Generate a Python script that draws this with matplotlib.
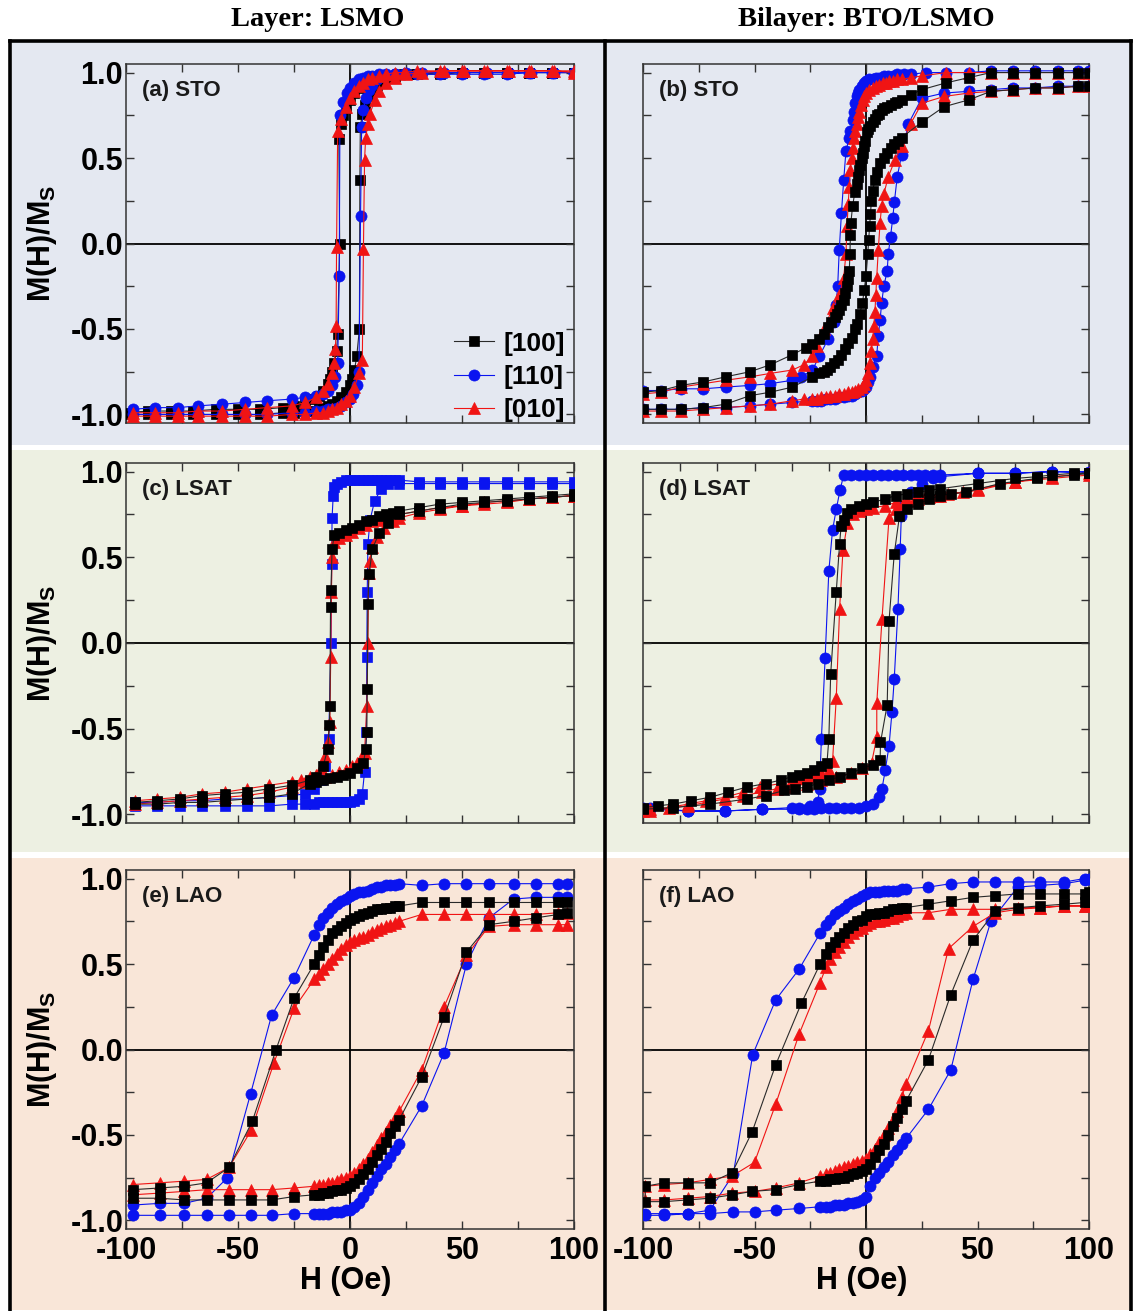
import numpy as np
import matplotlib
matplotlib.use('Agg')
import matplotlib.pyplot as plt
from matplotlib.patches import Rectangle
from matplotlib.lines import Line2D
from matplotlib.ticker import MultipleLocator, FormatStrFormatter

plt.rcParams['font.family'] = ['Liberation Sans', 'DejaVu Sans']
plt.rcParams['axes.unicode_minus'] = False
plt.rcParams['mathtext.fontset'] = 'custom'
plt.rcParams['mathtext.bf'] = 'Liberation Sans:bold'
plt.rcParams['mathtext.rm'] = 'Liberation Sans'

# ---------------- data: each loop = descending branch then ascending branch, (H [Oe], M/Ms)
# (a) LSMO on STO
A_100 = np.array([
    (100,1.00),(90,1.00),(80,1.00),(70,1.00),(60,1.00),(50,1.00),(40,0.99),(30,0.99),(24,0.99),(20,0.98),
    (16,0.98),(13,0.97),(10,0.96),(8,0.95),(6,0.93),(4,0.91),(2,0.88),(0,0.84),(-2,0.79),(-3,0.75),(-4,0.70),
    (-5,0.61),(-4.6,0.00),(-5.5,-0.53),(-6,-0.63),(-7,-0.70),(-8,-0.75),(-9,-0.79),(-10,-0.82),(-12,-0.86),
    (-14,-0.89),(-17,-0.91),(-20,-0.93),(-25,-0.95),(-30,-0.96),(-40,-0.97),(-50,-0.97),(-60,-0.97),(-70,-0.98),
    (-80,-0.98),(-90,-0.98),(-100,-0.99),
    (-100,-1.00),(-90,-1.00),(-80,-1.00),(-70,-1.00),(-60,-1.00),(-50,-1.00),(-40,-1.00),(-30,-0.99),(-25,-0.99),
    (-20,-0.98),(-17,-0.98),(-14,-0.97),(-12,-0.96),(-10,-0.95),(-8,-0.94),(-6,-0.92),(-4,-0.90),(-2,-0.87),
    (0,-0.83),(1,-0.79),(2,-0.74),(3,-0.66),(4.2,-0.50),(4.4,0.37),(4.6,0.68),(5.5,0.76),(6.5,0.81),(8,0.86),
    (10,0.90),(12,0.93),(14,0.95),(17,0.97),(20,0.98),(25,0.99),(30,0.99),(40,1.00),(50,1.00),(60,1.00),
    (70,1.00),(80,1.00),(90,1.00),(100,1.00)])
A_110 = np.array([
    (100,1.00),(90,1.00),(80,1.00),(70,0.99),(60,0.99),(50,0.99),(40,0.99),(30,0.99),(24,0.99),(20,0.99),
    (16,0.99),(13,0.99),(10,0.98),(8,0.98),(6,0.97),(4,0.96),(2,0.94),(0,0.91),(-1.5,0.88),(-3,0.83),
    (-4.5,0.75),(-4.8,-0.19),(-5.5,-0.70),(-6.5,-0.78),(-8,-0.83),(-10,-0.86),(-12,-0.88),(-15,-0.89),
    (-20,-0.90),(-26,-0.91),(-37,-0.92),(-47,-0.93),(-57,-0.94),(-68,-0.95),(-77,-0.96),(-87,-0.96),(-97,-0.97),
    (-97,-1.00),(-87,-1.00),(-77,-1.00),(-68,-1.00),(-57,-1.00),(-47,-1.00),(-37,-1.00),(-26,-0.99),(-20,-0.99),
    (-15,-0.98),(-12,-0.98),(-10,-0.97),(-8,-0.97),(-6,-0.96),(-4,-0.95),(-2,-0.93),(0,-0.91),(1.5,-0.88),
    (3,-0.83),(4,-0.75),(4.7,0.16),(5.2,0.68),(6,0.78),(7,0.85),(8.5,0.90),(10,0.93),(12,0.96),(15,0.98),
    (20,0.99),(25,1.00),(32,1.00),(42,1.00),(51,1.00),(61,1.00),(71,1.00),(81,1.00),(91,1.00),(100,1.00)])
A_010 = np.array([
    (100,1.01),(90,1.01),(80,1.01),(70,1.01),(60,1.01),(50,1.01),(40,1.01),(30,1.01),(24,1.00),(20,1.00),
    (16,0.99),(13,0.98),(10,0.97),(8,0.96),(6,0.94),(4,0.92),(2,0.89),(0,0.85),(-2,0.80),(-4,0.73),(-5.5,0.66),
    (-6,-0.02),(-6.2,-0.48),(-6.5,-0.62),(-7,-0.70),(-8,-0.76),(-10,-0.82),(-12,-0.86),(-15,-0.90),(-20,-0.93),
    (-26,-0.95),(-37,-0.96),(-47,-0.97),(-57,-0.98),(-68,-0.98),(-77,-0.99),(-87,-0.99),(-97,-0.99),
    (-97,-1.01),(-87,-1.01),(-77,-1.01),(-68,-1.01),(-57,-1.01),(-47,-1.01),(-37,-1.01),(-26,-1.00),(-20,-1.00),
    (-15,-0.99),(-12,-0.99),(-10,-0.98),(-8,-0.97),(-6,-0.96),(-4,-0.94),(-2,-0.92),(0,-0.89),(2,-0.84),
    (4,-0.76),(5.5,-0.68),(6,-0.03),(6.5,0.49),(7,0.62),(8,0.70),(9,0.76),(11,0.84),(13,0.89),(16,0.94),
    (20,0.97),(25,0.99),(32,1.00),(42,1.01),(51,1.01),(61,1.01),(71,1.01),(81,1.01),(91,1.01),(100,1.00)])

# (b) BTO/LSMO on STO
B_100 = np.array([
    (100,1.00),(95,1.00),(86,1.00),(76,1.00),(66,1.00),(56,1.00),(46,0.97),(36,0.94),(25,0.90),(20,0.87),
    (16,0.84),(14,0.83),(13,0.82),(11,0.81),(9.5,0.80),(8,0.79),(7,0.78),(6,0.76),(5,0.75),(4,0.73),(3,0.71),
    (2,0.69),(1,0.67),(0.5,0.65),(-0.5,0.60),(-1,0.57),(-1.5,0.53),(-2,0.50),(-2.5,0.46),(-3,0.43),(-3.5,0.39),
    (-4.2,0.35),(-5,0.30),(-6,0.22),(-6.8,0.12),(-7,0.05),(-7.2,-0.06),(-7.5,-0.16),(-8,-0.21),(-8.5,-0.25),
    (-9.2,-0.29),(-10,-0.33),(-11,-0.36),(-12,-0.39),(-13,-0.41),(-14,-0.43),(-15.5,-0.46),(-17,-0.49),
    (-19,-0.53),(-21,-0.56),(-24,-0.59),(-27,-0.61),(-33,-0.65),(-43,-0.71),
    (-52,-0.75),(-63,-0.78),(-73,-0.81),(-83,-0.83),(-92,-0.86),(-100,-0.87),
    (-100,-0.97),(-92,-0.97),(-83,-0.97),(-73,-0.96),(-63,-0.94),(-52,-0.89),(-43,-0.87),(-33,-0.84),
    (-24,-0.78),(-21,-0.76),(-19,-0.75),(-17.5,-0.74),(-16,-0.72),(-14.5,-0.70),(-12.7,-0.68),(-11,-0.65),
    (-9.5,-0.62),(-8,-0.58),(-6.5,-0.55),(-5,-0.50),(-4,-0.47),(-2.8,-0.41),(-1.6,-0.35),(-0.8,-0.27),
    (0,-0.19),(0.8,-0.06),(1.2,0.02),(1.6,0.10),(2,0.17),(2.4,0.25),(3,0.31),(4,0.37),(5,0.42),(6.3,0.47),
    (8,0.50),(9.5,0.53),(11,0.56),(12.7,0.58),(14.5,0.60),(16,0.62),(25,0.71),(35,0.80),(46,0.84),
    (56,0.89),(66,0.90),(76,0.91),(86,0.91),(95,0.92),(100,0.92)])
B_110 = np.array([
    (100,1.01),(95,1.01),(86,1.01),(76,1.01),(66,1.01),(56,1.01),(46,1.00),(36,1.00),(27,1.00),(20,0.99),
    (17,0.99),(14,0.99),(12,0.98),(10,0.98),(8,0.98),(6,0.97),(4.5,0.97),(3,0.96),(1.5,0.96),(0,0.95),
    (-1,0.94),(-2,0.92),(-3,0.90),(-3.5,0.88),(-4.2,0.86),(-5,0.82),(-5.5,0.77),(-6,0.72),(-7,0.66),
    (-7.5,0.62),(-9,0.54),(-10,0.37),(-11,0.18),(-12,-0.04),(-12.7,-0.25),(-13.5,-0.36),(-14.5,-0.46),
    (-17,-0.56),(-21,-0.66),(-24,-0.74),(-29,-0.78),(-33,-0.80),(-43,-0.82),(-52,-0.83),(-63,-0.84),
    (-73,-0.85),(-83,-0.85),(-92,-0.86),(-100,-0.86),
    (-100,-0.97),(-92,-0.97),(-83,-0.97),(-73,-0.96),(-63,-0.96),(-52,-0.95),(-43,-0.94),(-33,-0.93),
    (-24,-0.92),(-22,-0.92),(-20,-0.92),(-18,-0.91),(-16,-0.91),(-14,-0.91),(-12,-0.90),(-10,-0.90),
    (-8,-0.89),(-6.5,-0.89),(-5,-0.88),(-3.5,-0.87),(-2,-0.86),(-1,-0.85),(0,-0.84),(0.8,-0.81),(1.6,-0.78),
    (3,-0.72),(4.8,-0.66),(5.5,-0.54),(6.3,-0.45),(7,-0.35),(8,-0.25),(9.5,-0.16),(10,-0.06),(11,0.04),
    (12,0.15),(12.7,0.24),(14,0.39),(16,0.52),(19,0.70),(25,0.85),(35,0.88),(46,0.89),(56,0.90),(66,0.91),
    (76,0.91),(86,0.92),(95,0.92),(100,0.92)])
B_010 = np.array([
    (100,1.00),(95,1.00),(86,1.00),(76,1.00),(66,1.00),(56,1.00),(46,1.00),(36,1.00),(25,0.98),(20,0.97),
    (16,0.96),(14,0.96),(12,0.95),(10.5,0.95),(9,0.94),(7.5,0.94),(6,0.93),(4.5,0.92),(3,0.91),(1.5,0.90),
    (0,0.88),(-0.8,0.86),(-1.5,0.84),(-2.2,0.81),(-3,0.77),(-3.5,0.74),(-4,0.70),(-4.8,0.66),(-5.5,0.62),
    (-6,0.56),(-6.5,0.50),(-7,0.43),(-7.5,0.33),(-8,0.23),(-8.5,0.10),(-9,-0.06),(-10,-0.20),(-12,-0.30),
    (-15,-0.38),(-19,-0.50),(-22,-0.60),(-24,-0.66),(-28,-0.71),(-33,-0.74),(-43,-0.76),(-52,-0.78),
    (-63,-0.80),(-73,-0.82),(-83,-0.84),(-92,-0.87),(-100,-0.88),
    (-100,-0.98),(-92,-0.98),(-83,-0.98),(-73,-0.97),(-63,-0.96),(-52,-0.95),(-43,-0.94),(-33,-0.92),
    (-28,-0.91),(-24,-0.91),(-22,-0.91),(-20,-0.90),(-18,-0.90),(-16,-0.89),(-14,-0.89),(-12,-0.88),
    (-10,-0.88),(-8,-0.87),(-6.5,-0.87),(-5,-0.86),(-3.5,-0.85),(-2,-0.84),(-1,-0.82),(0,-0.80),(0.8,-0.76),
    (1.6,-0.70),(2.3,-0.63),(3,-0.56),(3.5,-0.48),(4,-0.40),(4.4,-0.30),(4.8,-0.20),(5.5,-0.04),(6.3,0.12),
    (7,0.22),(8,0.29),(10,0.39),(13,0.49),(16,0.57),(20,0.70),(25,0.82),(35,0.86),(46,0.88),(56,0.89),
    (66,0.90),(76,0.91),(86,0.91),(95,0.92),(100,0.92)])

# (c) LSMO on LSAT
C_100 = np.array([
    (100,0.87),(90,0.86),(80,0.85),(70,0.84),(60,0.83),(50,0.82),(40,0.81),(31,0.79),(22,0.77),(19,0.76),
    (16,0.75),(13,0.74),(10,0.72),(7,0.71),(4,0.69),(1,0.67),(-2,0.66),(-5,0.64),(-7,0.63),(-8,0.55),
    (-8.5,0.31),(-8.7,0.21),(-9,-0.37),(-9.2,-0.48),(-10,-0.62),(-12,-0.72),(-15,-0.78),(-18,-0.80),
    (-26,-0.83),(-36,-0.85),(-46,-0.87),(-56,-0.88),(-66,-0.89),(-76,-0.91),(-86,-0.92),(-96,-0.93),
    (-96,-0.94),(-86,-0.94),(-76,-0.93),(-66,-0.93),(-56,-0.92),(-46,-0.91),(-36,-0.90),(-26,-0.88),
    (-18,-0.82),(-15,-0.81),(-12,-0.80),(-9,-0.79),(-6,-0.78),(-3,-0.77),(0,-0.76),(3,-0.73),(6,-0.70),
    (7,-0.62),(7.5,-0.52),(7.7,-0.27),(8,0.23),(8.5,0.40),(10,0.55),(13,0.64),(17,0.70),(22,0.75),(31,0.77),
    (40,0.79),(50,0.81),(60,0.82),(70,0.83),(80,0.84),(90,0.85),(100,0.86)])
C_110 = np.array([
    (100,0.94),(90,0.94),(80,0.94),(70,0.94),(60,0.94),(50,0.94),(40,0.94),(31,0.94),(22,0.95),(20,0.95),
    (18,0.95),(16,0.95),(14,0.95),(12,0.95),(10,0.95),(8,0.95),(6,0.95),(4,0.95),(2,0.95),(0,0.95),(-2,0.95),
    (-4,0.94),(-6,0.93),(-7,0.91),(-7.5,0.86),(-8,0.73),(-8.2,0.46),(-8.5,0.00),(-9.5,-0.56),(-11,-0.72),
    (-13,-0.80),(-16,-0.85),(-20,-0.88),(-26,-0.89),(-36,-0.90),(-46,-0.91),(-56,-0.91),(-66,-0.92),
    (-76,-0.92),(-86,-0.93),(-96,-0.93),
    (-96,-0.95),(-86,-0.95),(-76,-0.95),(-66,-0.95),(-56,-0.95),(-46,-0.95),(-36,-0.95),(-26,-0.94),
    (-20,-0.94),(-16,-0.94),(-14,-0.93),(-12,-0.93),(-10,-0.93),(-8,-0.93),(-6,-0.93),(-4,-0.93),(-2,-0.93),
    (0,-0.93),(2,-0.92),(4,-0.91),(5.5,-0.88),(6.5,-0.75),(7.3,-0.52),(7.5,-0.08),(7.7,0.30),(8,0.58),
    (9,0.72),(11,0.83),(14,0.90),(17,0.93),(22,0.93),(31,0.93),(40,0.93),(50,0.93),(60,0.93),(70,0.93),
    (80,0.93),(90,0.93),(100,0.93)])
C_010 = np.array([
    (100,0.86),(90,0.85),(80,0.84),(70,0.83),(60,0.82),(50,0.80),(40,0.79),(31,0.77),(22,0.75),(19,0.74),
    (16,0.73),(13,0.72),(10,0.71),(7,0.69),(4,0.67),(1,0.65),(-2,0.63),(-5,0.61),(-7,0.59),(-8,0.50),
    (-8.3,0.30),(-8.6,-0.08),(-9,-0.46),(-10,-0.58),(-11,-0.66),(-13,-0.73),(-15,-0.77),(-18,-0.78),
    (-22,-0.80),(-26,-0.81),(-36,-0.83),(-46,-0.85),(-56,-0.87),(-66,-0.88),(-76,-0.90),(-86,-0.91),
    (-96,-0.92),
    (-96,-0.94),(-86,-0.93),(-76,-0.92),(-66,-0.91),(-56,-0.90),(-46,-0.89),(-36,-0.87),(-26,-0.84),
    (-20,-0.81),(-17,-0.80),(-14,-0.79),(-11,-0.78),(-8,-0.77),(-5,-0.75),(-2,-0.74),(1,-0.72),(3,-0.70),
    (5,-0.67),(6.5,-0.64),(7.5,-0.37),(8,0.00),(8.3,0.41),(8.8,0.48),(10,0.56),(12,0.62),(15,0.67),
    (19,0.71),(22,0.73),(31,0.76),(40,0.78),(50,0.80),(60,0.81),(70,0.82),(80,0.84),(90,0.85),(100,0.86)])

# (d) BTO/LSMO on LSAT
D_100 = np.array([
    (60,0.99),(56,0.99),(50,0.98),(46,0.97),(40,0.96),(30,0.93),(20,0.90),(17,0.89),(14,0.88),(11,0.87),
    (8,0.86),(5,0.84),(2,0.82),(0,0.81),(-2,0.80),(-4,0.78),(-5,0.76),(-6,0.72),(-6.7,0.68),(-7.1,0.58),
    (-8,0.30),(-9.5,-0.18),(-10,-0.56),(-10.5,-0.70),(-12,-0.72),(-14,-0.74),(-16,-0.76),(-18,-0.77),
    (-20,-0.78),(-23,-0.80),(-27,-0.82),(-32,-0.84),(-37,-0.87),(-42,-0.90),(-47,-0.92),(-52,-0.94),
    (-56,-0.95),(-60,-0.96),
    (-60,-0.97),(-52,-0.96),(-42,-0.94),(-32,-0.91),(-27,-0.89),(-22,-0.86),(-19,-0.85),(-16,-0.84),
    (-13,-0.82),(-10,-0.80),(-7,-0.78),(-4,-0.76),(-1,-0.73),(2,-0.71),(3.8,-0.68),(3.9,-0.58),(5.7,-0.36),
    (6.2,0.13),(7.6,0.52),(9,0.74),(11,0.78),(14,0.81),(17,0.84),(20,0.86),(23,0.87),(27,0.88),(36,0.93),
    (46,0.96),(56,0.98),(60,0.99)])
D_110 = np.array([
    (60,0.99),(50,1.00),(40,0.99),(30,0.99),(20,0.98),(18,0.98),(16,0.98),(14,0.98),(12,0.98),(10,0.98),
    (8,0.98),(6,0.98),(4,0.98),(2,0.98),(0,0.98),(-2,0.98),(-4,0.98),(-6,0.98),(-7,0.89),(-8,0.78),(-9,0.66),
    (-10,0.42),(-11,-0.09),(-12,-0.56),(-12.5,-0.85),(-13,-0.93),(-15,-0.95),(-18,-0.96),(-20,-0.96),
    (-28,-0.97),(-38,-0.98),(-48,-0.98),(-58,-0.96),(-60,-0.96),
    (-60,-0.97),(-58,-0.97),(-48,-0.98),(-38,-0.98),(-28,-0.97),(-18,-0.97),(-16,-0.97),(-14,-0.97),
    (-12,-0.96),(-10,-0.96),(-8,-0.96),(-6,-0.96),(-4,-0.96),(-2,-0.96),(0,-0.95),(2,-0.94),(3.5,-0.90),
    (4.3,-0.85),(5.2,-0.74),(6.2,-0.60),(7,-0.40),(7.6,-0.21),(8.6,0.20),(9.2,0.55),(9.5,0.74),(10,0.80),
    (12,0.88),(15,0.93),(18,0.96),(20,0.97),(30,0.99),(40,0.99),(50,1.00),(60,1.00)])
D_010 = np.array([
    (60,0.98),(50,0.96),(40,0.94),(30,0.89),(20,0.86),(17,0.85),(14,0.84),(11,0.83),(8,0.82),(5,0.80),
    (2,0.79),(0,0.78),(-2,0.77),(-3.5,0.75),(-5,0.70),(-6.2,0.54),(-7.1,0.20),(-8,-0.32),(-9,-0.69),
    (-10,-0.74),(-12,-0.76),(-14,-0.77),(-16,-0.78),(-18,-0.79),(-20,-0.80),(-23,-0.82),(-28.6,-0.84),
    (-33,-0.87),(-38,-0.90),(-43,-0.92),(-48,-0.94),(-53,-0.96),(-58,-0.97),(-60,-0.97),
    (-60,-0.98),(-58,-0.98),(-48,-0.95),(-38,-0.91),(-33,-0.89),(-28,-0.87),(-24,-0.85),(-20,-0.84),
    (-16,-0.82),(-12,-0.80),(-8,-0.78),(-4,-0.76),(-1,-0.73),(1.5,-0.70),(2.9,-0.55),(2.9,-0.35),(4.3,0.14),
    (6.2,0.73),(8,0.78),(10,0.81),(13,0.83),(16,0.85),(19,0.86),(22,0.87),(26,0.88),(30,0.90),(40,0.94),
    (50,0.97),(60,0.99)])

# (e) LSMO on LAO
E_100 = np.array([
    (97,0.86),(93,0.86),(83,0.86),(73,0.86),(62,0.86),(52,0.86),(42,0.86),(32,0.86),(22,0.84),(20,0.84),
    (18,0.83),(16,0.83),(14,0.82),(12,0.82),(10,0.81),(8,0.80),(6,0.79),(4,0.78),(2,0.77),(0,0.76),(-2,0.74),
    (-4,0.72),(-6,0.70),(-8,0.68),(-10,0.64),(-12,0.60),(-14,0.55),(-16,0.50),(-25,0.30),(-33,0.00),
    (-43.6,-0.42),(-54,-0.69),(-64,-0.78),(-74,-0.80),(-85,-0.81),(-97,-0.82),
    (-97,-0.87),(-85,-0.87),(-74,-0.88),(-64,-0.88),(-54,-0.88),(-44,-0.88),(-35,-0.88),(-25,-0.86),
    (-16,-0.85),(-14,-0.85),(-12,-0.84),(-10,-0.84),(-8,-0.83),(-6,-0.82),(-4,-0.82),(-2,-0.81),(0,-0.80),
    (2,-0.78),(4,-0.76),(6,-0.73),(8,-0.70),(10,-0.66),(12,-0.62),(14,-0.58),(16,-0.54),(18,-0.49),
    (20,-0.45),(22,-0.41),(32,-0.16),(42,0.19),(52,0.57),(62,0.73),(73,0.75),(83,0.77),(93,0.79),(97,0.80)])
E_110 = np.array([
    (97,0.97),(93,0.97),(83,0.97),(73,0.97),(62,0.97),(52,0.97),(42,0.97),(32,0.96),(22,0.97),(20,0.96),
    (18,0.96),(16,0.96),(14,0.95),(12,0.95),(10,0.94),(8,0.93),(6,0.92),(4,0.92),(2,0.91),(0,0.90),(-2,0.88),
    (-4,0.87),(-6,0.85),(-8,0.83),(-10,0.80),(-12,0.77),(-14,0.73),(-16,0.67),(-25,0.42),(-35,0.20),
    (-44.4,-0.26),(-54.7,-0.75),(-64,-0.87),(-74,-0.90),(-85,-0.90),(-97,-0.91),
    (-97,-0.97),(-85,-0.97),(-74,-0.97),(-64,-0.97),(-54,-0.97),(-44,-0.97),(-35,-0.97),(-25,-0.96),
    (-16,-0.96),(-14,-0.96),(-12,-0.96),(-10,-0.96),(-8,-0.95),(-6,-0.95),(-4,-0.95),(-2,-0.94),(0,-0.94),
    (2,-0.92),(4,-0.90),(6,-0.86),(8,-0.82),(10,-0.78),(12,-0.74),(14,-0.70),(16,-0.67),(18,-0.63),
    (20,-0.59),(22,-0.55),(32,-0.33),(42,-0.02),(52,0.50),(62,0.77),(73,0.88),(83,0.89),(93,0.89),(97,0.89)])
E_010 = np.array([
    (97,0.80),(93,0.80),(83,0.79),(73,0.79),(62,0.79),(52,0.79),(42,0.79),(32,0.79),(22,0.75),(20,0.74),
    (18,0.73),(16,0.72),(14,0.71),(12,0.70),(10,0.69),(8,0.67),(6,0.66),(4,0.65),(2,0.64),(0,0.63),(-2,0.61),
    (-4,0.59),(-6,0.56),(-8,0.53),(-10,0.50),(-12,0.47),(-14,0.44),(-16,0.41),(-25,0.24),(-34,-0.08),
    (-44,-0.47),(-54,-0.69),(-64,-0.76),(-74,-0.77),(-85,-0.78),(-97,-0.79),
    (-97,-0.85),(-85,-0.84),(-74,-0.83),(-64,-0.82),(-54,-0.82),(-44,-0.82),(-35,-0.82),(-25,-0.81),
    (-16,-0.80),(-14,-0.79),(-12,-0.79),(-10,-0.78),(-8,-0.78),(-6,-0.77),(-4,-0.76),(-2,-0.75),(0,-0.74),
    (2,-0.72),(4,-0.70),(6,-0.67),(8,-0.64),(10,-0.60),(12,-0.56),(14,-0.52),(16,-0.48),(18,-0.44),
    (20,-0.40),(22,-0.36),(32,-0.12),(42,0.25),(52,0.55),(62,0.72),(73,0.73),(83,0.73),(93,0.73),(97,0.73)])

# (f) BTO/LSMO on LAO
F_100 = np.array([
    (100,0.92),(98,0.91),(89,0.91),(78,0.91),(68,0.91),(58,0.90),(48,0.89),(38,0.87),(28,0.85),(18,0.83),
    (16,0.83),(14,0.82),(12,0.82),(10,0.81),(8,0.80),(6,0.80),(4,0.79),(2,0.79),(0,0.78),(-2,0.76),(-4,0.75),
    (-6,0.73),(-8,0.71),(-10,0.68),(-12,0.66),(-14,0.63),(-16,0.60),(-18,0.56),(-20.6,0.50),(-29,0.27),
    (-40.5,-0.09),(-51,-0.48),(-60,-0.72),(-70,-0.78),(-80,-0.78),(-90.5,-0.78),(-99,-0.80),
    (-99,-0.89),(-90.5,-0.89),(-80,-0.88),(-70,-0.87),(-60,-0.85),(-51,-0.83),(-40.5,-0.82),(-30,-0.79),
    (-20.6,-0.77),(-18,-0.77),(-16,-0.76),(-14,-0.76),(-12,-0.75),(-10,-0.75),(-8,-0.74),(-6,-0.73),
    (-4,-0.72),(-2,-0.71),(0,-0.70),(2,-0.67),(4,-0.63),(6,-0.59),(8,-0.55),(10,-0.50),(12,-0.45),
    (14,-0.40),(16,-0.35),(18,-0.30),(28,-0.06),(38,0.32),(48,0.64),(58,0.81),(68,0.83),(78,0.84),
    (89,0.85),(98,0.86),(100,0.86)])
F_110 = np.array([
    (100,1.00),(98,1.00),(89,0.98),(78,0.98),(68,0.98),(58,0.98),(48,0.98),(38,0.97),(28,0.95),(18,0.94),
    (16,0.94),(14,0.93),(12,0.93),(10,0.93),(8,0.93),(6,0.92),(4,0.92),(2,0.92),(0,0.91),(-2,0.90),(-4,0.88),
    (-6,0.87),(-8,0.85),(-10,0.83),(-12,0.81),(-14,0.79),(-16,0.76),(-18,0.73),(-20.6,0.68),(-30,0.47),
    (-40.5,0.29),(-50.8,-0.03),(-59.5,-0.73),(-70,-0.94),(-80,-0.96),(-90.5,-0.96),(-99,-0.96),
    (-99,-0.97),(-90.5,-0.97),(-80,-0.96),(-70,-0.96),(-59.5,-0.95),(-50,-0.95),(-40.5,-0.94),(-30,-0.93),
    (-20.6,-0.92),(-18,-0.92),(-16,-0.92),(-14,-0.91),(-12,-0.91),(-10,-0.91),(-8,-0.90),(-6,-0.90),
    (-4,-0.89),(-2,-0.88),(0,-0.86),(2,-0.80),(4,-0.75),(6,-0.72),(8,-0.69),(10,-0.66),(12,-0.62),
    (14,-0.59),(16,-0.55),(18,-0.52),(28,-0.35),(38,-0.12),(48,0.41),(56,0.75),(68,0.95),(78,0.96),
    (89,0.97),(98,0.99)])
F_010 = np.array([
    (100,0.85),(98,0.84),(89,0.84),(78,0.83),(68,0.83),(58,0.82),(48,0.82),(38,0.82),(28,0.80),(18,0.80),
    (16,0.79),(14,0.78),(12,0.77),(10,0.77),(8,0.76),(6,0.75),(4,0.75),(2,0.74),(0,0.73),(-2,0.71),(-4,0.70),
    (-6,0.68),(-8,0.66),(-10,0.63),(-12,0.60),(-14,0.57),(-16,0.53),(-18,0.48),(-20.6,0.39),(-30,0.09),
    (-40.5,-0.32),(-50,-0.66),(-60,-0.74),(-70,-0.76),(-80,-0.78),(-90.5,-0.79),(-99,-0.80),
    (-99,-0.88),(-90.5,-0.88),(-80,-0.87),(-70,-0.86),(-60,-0.84),(-50,-0.83),(-40.5,-0.81),(-30,-0.78),
    (-20.6,-0.74),(-18,-0.73),(-16,-0.72),(-14,-0.71),(-12,-0.70),(-10,-0.69),(-8,-0.68),(-6,-0.67),
    (-4,-0.66),(-2,-0.65),(0,-0.64),(2,-0.61),(4,-0.58),(6,-0.54),(8,-0.50),(10,-0.46),(12,-0.41),
    (14,-0.36),(16,-0.28),(18,-0.20),(28,0.11),(37,0.59),(48,0.72),(58,0.80),(68,0.82),(78,0.83),
    (89,0.84),(98,0.84),(100,0.85)])

SERIES_LABELS = ['[100]', '[110]', '[010]']
PANEL_LABELS = ['(a) STO', '(b) STO', '(c) LSAT', '(d) LSAT', '(e) LAO', '(f) LAO']
COLUMN_TITLES = ['Layer: LSMO', 'Bilayer: BTO/LSMO']

PANEL_DATA = [(A_100, A_110, A_010), (B_100, B_110, B_010),
              (C_100, C_110, C_010), (D_100, D_110, D_010),
              (E_100, E_110, E_010), (F_100, F_110, F_010)]

# ---------------- figure
W, Hpx = 1134, 1311
fig = plt.figure(figsize=(W / 100, Hpx / 100), dpi=100)
fig.patch.set_facecolor('white')

def fx(px):
    return px / W

def fy(py):
    return 1 - py / Hpx

bands = [(41, 445, '#e4e8f1'), (450, 852, '#edf0e2'), (858, 1310, '#f9e6d8')]
for top, bot, col in bands:
    fig.add_artist(Rectangle((fx(10), fy(bot)), fx(1131) - fx(10), fy(top) - fy(bot),
                             transform=fig.transFigure, facecolor=col, edgecolor='none', zorder=-5))

# frame and divider
frame_kw = dict(transform=fig.transFigure, color='black', lw=2.6, zorder=10)
fig.add_artist(Line2D([fx(10), fx(1131)], [fy(41), fy(41)], **frame_kw))
fig.add_artist(Line2D([fx(10), fx(10)], [fy(41), fy(1311)], **frame_kw))
fig.add_artist(Line2D([fx(1131), fx(1131)], [fy(41), fy(1311)], **frame_kw))
fig.add_artist(Line2D([fx(605), fx(605)], [fy(41), fy(1311)], **frame_kw))

for xc, t in zip([318, 866], COLUMN_TITLES):
    fig.text(fx(xc), fy(19), t, ha='center', va='center',
             family=['Liberation Serif', 'DejaVu Serif'], weight='bold', size=20.5)

col_left = [126, 643]
col_w = [448, 446]
row_top = [64, 463, 870]
row_bot = [423, 823, 1229]

styles = [dict(marker='s', ms=7.0, color='black', lc='#2a2a2a'),
          dict(marker='o', ms=8.0, color='#0a14f0', lc='#0a14f0'),
          dict(marker='^', ms=9.0, color='#f01414', lc='#f01414')]

for i in range(6):
    r, c = divmod(i, 2)
    ax = fig.add_axes([fx(col_left[c]), fy(row_bot[r]), col_w[c] / W, (row_bot[r] - row_top[r]) / Hpx])
    ax.patch.set_alpha(0)
    ax.axhline(0, color='black', lw=1.3, zorder=1)
    ax.axvline(0, color='black', lw=1.3, zorder=1)
    order = [0, 1, 2] if i == 0 else [1, 2, 0]
    handles = {}
    for k in order:
        d = PANEL_DATA[i][k]
        st = styles[k]
        mk = st['marker']
        ms = st['ms']
        if i == 2 and k == 1:
            mk, ms = 's', 7.0
        ln, = ax.plot(d[:, 0], d[:, 1], color=st['lc'], lw=0.8, marker=mk, ms=ms,
                      mfc=st['color'], mec=st['color'], mew=0.5, zorder=3 + order.index(k),
                      label=SERIES_LABELS[k])
        handles[k] = ln
    if i == 3:
        ax.set_xlim(-60, 60)
        ax.xaxis.set_major_locator(MultipleLocator(20))
        ax.xaxis.set_minor_locator(MultipleLocator(10))
    else:
        ax.set_xlim(-100, 100)
        ax.xaxis.set_major_locator(MultipleLocator(50))
        ax.xaxis.set_minor_locator(MultipleLocator(25))
    ax.set_ylim(-1.05, 1.05)
    ax.yaxis.set_major_locator(MultipleLocator(0.5))
    ax.yaxis.set_minor_locator(MultipleLocator(0.25))
    ax.yaxis.set_major_formatter(FormatStrFormatter('%.1f'))
    ax.xaxis.set_major_formatter(FormatStrFormatter('%d'))
    ax.tick_params(which='both', direction='in', top=True, right=True, length=6, width=1.0,
                   color='#333333')
    ax.tick_params(axis='y', pad=2, labelsize=22)
    ax.tick_params(axis='x', pad=5, labelsize=22)
    for lab in ax.get_xticklabels() + ax.get_yticklabels():
        lab.set_fontweight('bold')
    ax.tick_params(labelleft=(c == 0), labelbottom=(r == 2))
    for sp in ax.spines.values():
        sp.set_linewidth(1.1)
        sp.set_color('#333333')
    ax.text(0.036, 0.925, PANEL_LABELS[i], transform=ax.transAxes, ha='left', va='center',
            fontsize=16, fontweight='bold', color='#1a1a1a', zorder=6)
    if c == 0:
        ax.text(-0.188, 0.5, r'M(H)/M$_\mathbf{S}$', transform=ax.transAxes, rotation=90,
                ha='center', va='center', fontsize=22, fontweight='bold')
    if r == 2:
        ax.text(0.49, -0.145, 'H (Oe)', transform=ax.transAxes, ha='center', va='center',
                fontsize=22, fontweight='bold')
    if i == 0:
        ax.legend([handles[0], handles[1], handles[2]], SERIES_LABELS, loc='lower right',
                  bbox_to_anchor=(0.985, -0.005), frameon=False, prop={'weight': 'bold', 'size': 19},
                  handlelength=1.5, handletextpad=0.35, labelspacing=0.35, borderpad=0.1,
                  borderaxespad=0.0)

fig.savefig('out.png', dpi=100)
